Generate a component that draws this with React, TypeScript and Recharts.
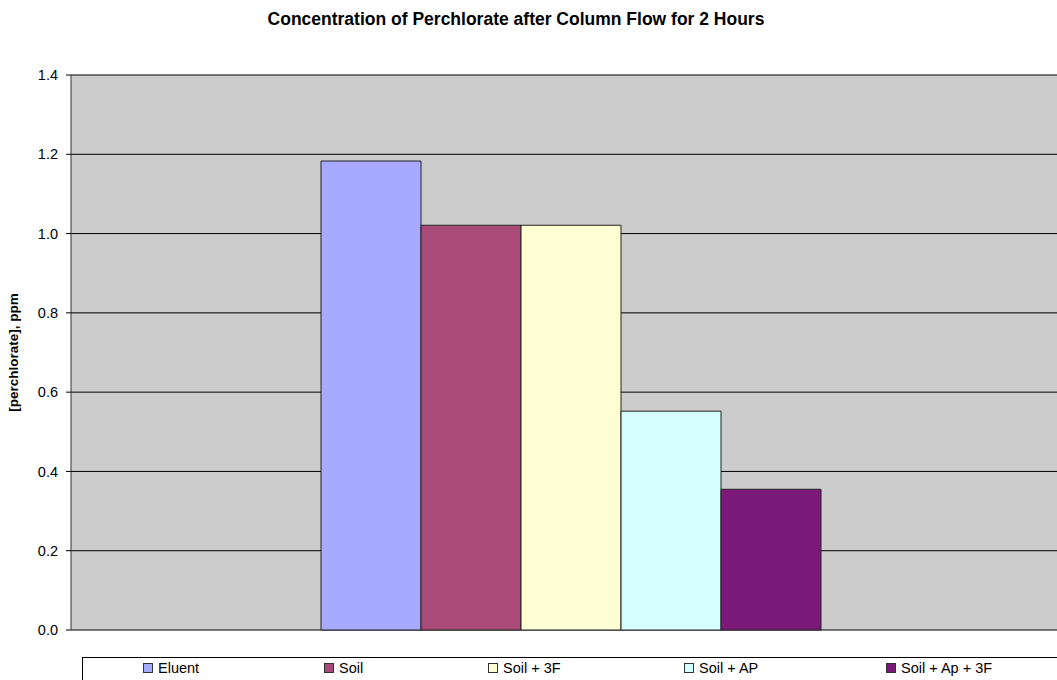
import { Bar, BarChart, CartesianGrid, XAxis, YAxis } from "recharts";

const categories = ["2 Hours"];
const seriesNames = ["Eluent", "Soil", "Soil + 3F", "Soil + AP", "Soil + Ap + 3F"];
const seriesValues = [1.183, 1.021, 1.021, 0.552, 0.355];
const yTicks = [0, 0.2, 0.4, 0.6, 0.8, 1.0, 1.2, 1.4];

const title = "Concentration of Perchlorate after Column Flow for 2 Hours";
const yLabel = "[perchlorate], ppm";

const colors = ["#a8aaff", "#aa4a78", "#ffffd6", "#d6ffff", "#7b1978"];
const legendLeft = [143, 324, 488, 684, 886];

const font = "'Liberation Sans', Arial, sans-serif";

const data = categories.map((c) => {
  const row: Record<string, string | number> = { category: c };
  seriesNames.forEach((n, i) => {
    row[n] = seriesValues[i];
  });
  return row;
});

function YLabel(props: any) {
  const vb = props.viewBox || {};
  const cy = (vb.y ?? 75) + (vb.height ?? 555) / 2;
  return (
    <text
      transform={`translate(18, ${cy}) rotate(-90)`}
      textAnchor="middle"
      fontFamily={font}
      fontSize={13.5}
      fontWeight="bold"
      fill="#000"
    >
      {yLabel}
    </text>
  );
}

export default function App() {
  return (
    <div
      style={{
        position: "fixed",
        left: 0,
        top: 0,
        width: 1057,
        height: 680,
        overflow: "hidden",
        background: "#fff",
        fontFamily: font,
      }}
    >
      <div
        style={{
          position: "absolute",
          left: 516 - 350,
          width: 700,
          top: 9,
          textAlign: "center",
          fontSize: 17.5,
          fontWeight: "bold",
          color: "#000",
        }}
      >
        {title}
      </div>

      <div style={{ position: "absolute", left: 0, top: 0 }}>
        <BarChart
          width={1080}
          height={680}
          data={data}
          margin={{ top: 75, right: 9, bottom: 50, left: 0 }}
          barCategoryGap="25%"
          barGap={0}
        >
          <CartesianGrid vertical={false} stroke="#000" fill="#cccccc" />
          <XAxis dataKey="category" tick={false} height={0} axisLine={{ stroke: "#000" }} tickLine={false} />
          <YAxis
            width={71}
            domain={[0, 1.4]}
            ticks={yTicks}
            interval={0}
            tickFormatter={(v: number) => v.toFixed(1)}
            tick={{ fontSize: 14.5, fill: "#000", fontFamily: font }}
            tickSize={5}
            tickMargin={8}
            tickLine={{ stroke: "#000" }}
            axisLine={{ stroke: "#333" }}
            label={{ content: YLabel }}
          />
          {seriesNames.map((n, i) => (
            <Bar key={n} dataKey={n} fill={colors[i]} stroke="#222" strokeWidth={1} isAnimationActive={false} />
          ))}
        </BarChart>
      </div>

      <div
        style={{
          position: "absolute",
          left: 82,
          top: 657,
          width: 1000,
          height: 40,
          border: "1px solid #000",
          background: "#fff",
        }}
      />
      {seriesNames.map((n, i) => (
        <div
          key={n}
          style={{
            position: "absolute",
            left: legendLeft[i],
            top: 660,
            display: "flex",
            alignItems: "center",
            fontSize: 14.5,
            color: "#000",
            whiteSpace: "nowrap",
          }}
        >
          <span
            style={{
              display: "inline-block",
              width: 8,
              height: 8,
              background: colors[i],
              border: "1px solid #333",
              marginRight: 5,
            }}
          />
          {n}
        </div>
      ))}
    </div>
  );
}
